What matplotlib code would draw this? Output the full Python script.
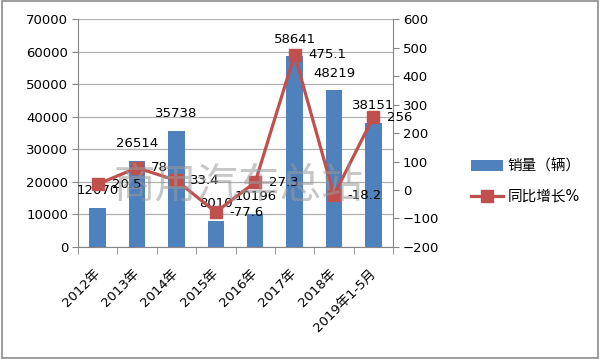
import matplotlib
matplotlib.use('Agg')
from matplotlib import pyplot as plt
from matplotlib.patches import Rectangle
import numpy as np

plt.rcParams['font.family'] = ['DejaVu Sans', 'Noto Sans CJK SC']

categories = ['2012年', '2013年', '2014年', '2015年', '2016年', '2017年', '2018年', '2019年1-5月']
sales = [12070, 26514, 35738, 8010, 10196, 58641, 48219, 38151]
growth = [20.5, 78, 33.4, -77.6, 27.3, 475.1, -18.2, 256]
growth_labels = ['20.5', '78', '33.4', '-77.6', '27.3', '475.1', '-18.2', '256']

bar_color = '#4F81BD'
line_color = '#C0504D'
axis_color = '#868686'
fs = 9.5

fig = plt.figure(figsize=(6, 3.59), dpi=100)
fig.patches.append(Rectangle((0.003, 0.004), 0.994, 0.992, transform=fig.transFigure,
                             fill=False, edgecolor='#8c8c8c', linewidth=1.2))

ax = fig.add_axes([0.13, 0.312, 0.525, 0.635])
x = np.arange(len(categories))

ax.bar(x, sales, width=0.42, color=bar_color, label='销量（辆）', zorder=2)
ax.set_xlim(-0.5, len(categories) - 0.5)
ax.set_ylim(0, 70000)
ax.set_yticks(np.arange(0, 70001, 10000))
ax.yaxis.grid(True, color='#b0b0b0', linewidth=0.9, zorder=0)
ax.set_axisbelow(True)
ax.tick_params(axis='y', labelsize=fs, length=4, color=axis_color, pad=3)
ax.set_xticks(x)
ax.set_xticks(np.arange(-0.5, len(categories), 1), minor=True)
ax.set_xticklabels(categories, rotation=45, ha='right', va='center',
                   rotation_mode='anchor', fontsize=fs)
ax.tick_params(axis='x', which='major', length=0, pad=18)
ax.tick_params(axis='x', which='minor', length=5, color=axis_color)
for s in ['top', 'right']:
    ax.spines[s].set_visible(False)
for s in ['left', 'bottom']:
    ax.spines[s].set_color(axis_color)

for xi, v in zip(x, sales):
    ax.annotate(str(v), (xi, v), xytext=(0, 7.5), textcoords='offset points',
                ha='center', va='bottom', fontsize=fs, zorder=5)

ax2 = ax.twinx()
ax2.plot(x, growth, color=line_color, linewidth=2.3, marker='s', markersize=8.5,
         label='同比增长%', zorder=4)
ax2.set_ylim(-200, 600)
ax2.set_yticks(np.arange(-200, 601, 100))
ax2.tick_params(axis='y', labelsize=fs, length=4, color=axis_color, pad=3)
for s in ['top', 'left', 'bottom']:
    ax2.spines[s].set_visible(False)
ax2.spines['right'].set_color(axis_color)

for xi, v, t in zip(x, growth, growth_labels):
    ax2.annotate(t, (xi, v), xytext=(10, 0), textcoords='offset points',
                 ha='left', va='center', fontsize=fs, zorder=5)

# watermark
fig.text(0.397, 0.478, '商用汽车总站', fontsize=30, color='#9a9a9a', alpha=0.55,
         ha='center', va='center', family=['Noto Sans CJK SC'], fontweight='light')

h1, l1 = ax.get_legend_handles_labels()
h2, l2 = ax2.get_legend_handles_labels()
fig.legend(h1 + h2, l1 + l2, loc='center left', bbox_to_anchor=(0.763, 0.495),
           frameon=False, fontsize=10.5, handlelength=2.2, labelspacing=1.05,
           handletextpad=0.3)

fig.savefig('out.png', dpi=100)
plt.close(fig)
